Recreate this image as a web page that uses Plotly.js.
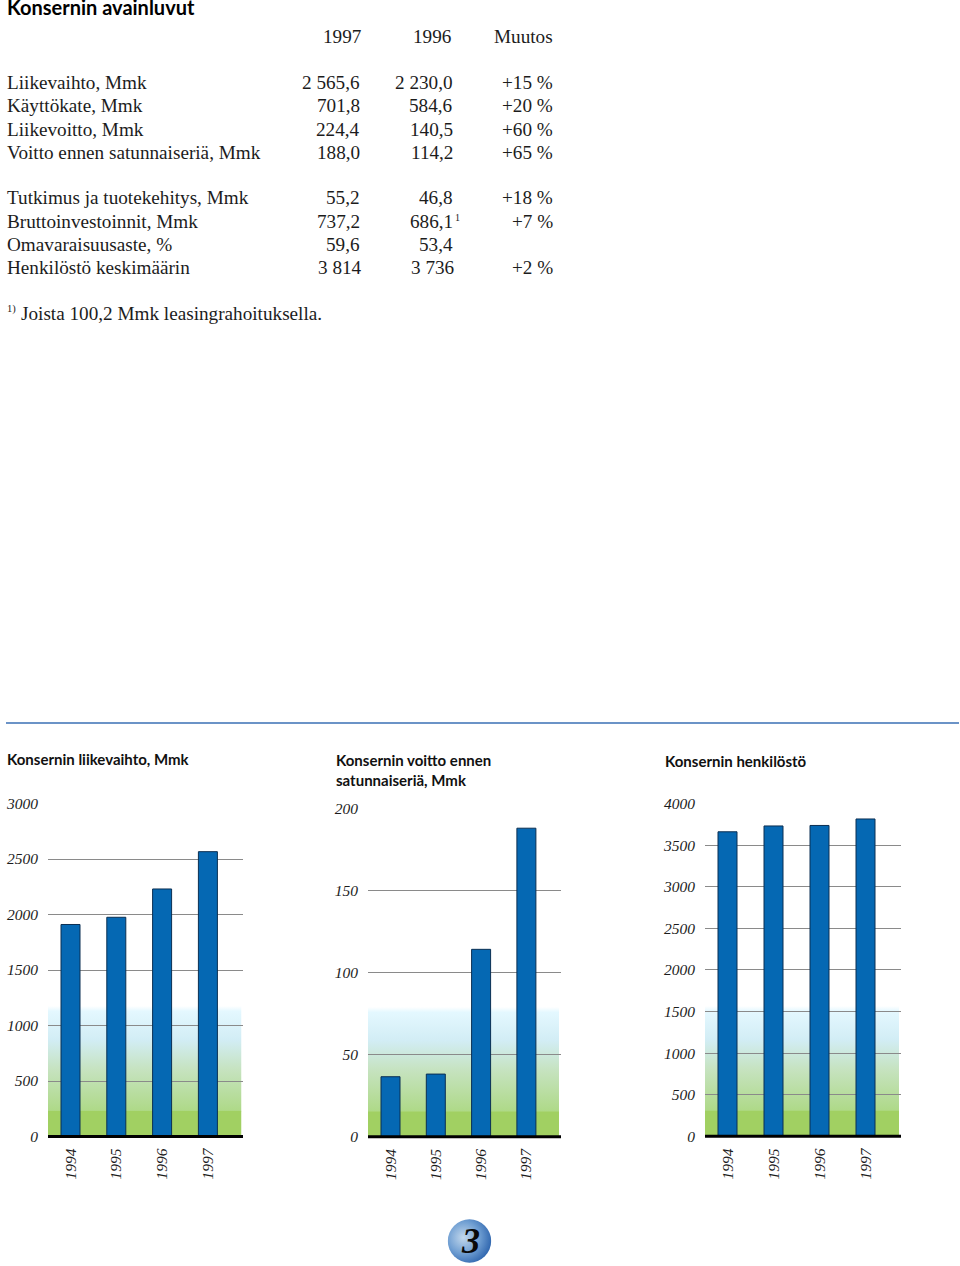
<!DOCTYPE html>
<html><head><meta charset="utf-8">
<script src="https://cdn.plot.ly/plotly-3.0.1.min.js"></script>
<style>html,body{margin:0;padding:0;background:#fff}#c{width:960px;height:1266px}</style>
</head><body><div id="c"></div>
<script>
const W = 960, H = 1266;
const SERIF = '"Liberation Serif", serif', SANS = 'Lato, "Open Sans", sans-serif';

// Table
const tableTitle = 'Konsernin avainluvut';
const tableHeaders = ['1997', '1996', 'Muutos'];
const rowLabels = ['Liikevaihto, Mmk', 'Käyttökate, Mmk', 'Liikevoitto, Mmk', 'Voitto ennen satunnaiseriä, Mmk',
  'Tutkimus ja tuotekehitys, Mmk', 'Bruttoinvestoinnit, Mmk', 'Omavaraisuusaste, %', 'Henkilöstö keskimäärin'];
const values1997 = ['2 565,6', '701,8', '224,4', '188,0', '55,2', '737,2', '59,6', '3 814'];
const values1996 = ['2 230,0', '584,6', '140,5', '114,2', '46,8', '686,1', '53,4', '3 736'];
const changes = ['+15 %', '+20 %', '+60 %', '+65 %', '+18 %', '+7 %', '', '+2 %'];
const rowY = [83, 106, 129, 152, 198, 221, 244, 267];
const footnote = 'Joista 100,2 Mmk leasingrahoituksella.';

// Charts
const years = ['1994', '1995', '1996', '1997'];
const revenue = [1910, 1975, 2230, 2566];
const profit = [36.6, 38.2, 114.2, 188];
const staff = [3660, 3730, 3736, 3814];
const chartTitles = ['Konsernin liikevaihto, Mmk', 'Konsernin voitto ennen<br>satunnaiseriä, Mmk', 'Konsernin henkilöstö'];
const revenueTicks = [0, 500, 1000, 1500, 2000, 2500, 3000];
const profitTicks = [0, 50, 100, 150, 200];
const staffTicks = [0, 500, 1000, 1500, 2000, 2500, 3000, 3500, 4000];

const px = x => x / W, py = y => 1 - y / H;
const panels = [
  {vals: revenue, ticks: revenueTicks, l: 48, r: 243, top: 803.5, bot: 1136.5, c0: 70.5, step: 45.8, gl: 48, gr: 241.5, gt: 1006, gm: 1111, titleX: 6, titleY: 759},
  {vals: profit, ticks: profitTicks, l: 368, r: 561, top: 808.5, bot: 1136.8, c0: 390.5, step: 45.3, gl: 368, gr: 559, gt: 1007, gm: 1113, titleX: 335, titleY: 770},
  {vals: staff, ticks: staffTicks, l: 705, r: 901, top: 803.5, bot: 1136.3, c0: 727.5, step: 46, gl: 705, gr: 899, gt: 1006, gm: 1111, titleX: 664, titleY: 761}
];

const gradSvg = 'data:image/svg+xml;utf8,' + encodeURIComponent(
  '<svg xmlns="http://www.w3.org/2000/svg" width="100" height="130" preserveAspectRatio="none" viewBox="0 0 100 130">' +
  '<defs><linearGradient id="g" x1="0" y1="0" x2="0" y2="1">' +
  '<stop offset="0" stop-color="#ffffff"/><stop offset="0.05" stop-color="#e4f8ff"/><stop offset="0.32" stop-color="#d2edf5"/>' +
  '<stop offset="0.6" stop-color="#c6e3c0"/><stop offset="1" stop-color="#aed987"/></linearGradient></defs>' +
  '<rect width="100" height="105" fill="url(#g)"/><rect y="104.5" width="100" height="25.5" fill="#a1d062"/></svg>');
const ballSvg = 'data:image/svg+xml;utf8,' + encodeURIComponent(
  '<svg xmlns="http://www.w3.org/2000/svg" width="44" height="44"><defs><radialGradient id="b" cx="0.36" cy="0.42" r="0.68">' +
  '<stop offset="0" stop-color="#c3d8ec"/><stop offset="0.55" stop-color="#6f9ed2"/><stop offset="1" stop-color="#2b62ac"/></radialGradient></defs>' +
  '<circle cx="22" cy="22" r="21.7" fill="url(#b)"/></svg>');

const data = [], layout = {
  width: W, height: H, margin: {l: 0, r: 0, t: 0, b: 0}, paper_bgcolor: '#fff', plot_bgcolor: 'rgba(0,0,0,0)',
  showlegend: false, bargap: 0, annotations: [], shapes: [], images: []
};
const txt = (text, x, y, o = {}) => layout.annotations.push(Object.assign({
  text, x: px(x), y: py(y), xref: 'paper', yref: 'paper', showarrow: false, xanchor: 'left', yanchor: 'middle',
  borderpad: 0, align: 'left', font: {family: SERIF, size: 19.2, color: '#1c1c1c'}
}, o));

panels.forEach((p, i) => {
  const s = i ? String(i + 1) : '';
  data.push({
    type: 'bar', x: years, y: p.vals, xaxis: 'x' + s, yaxis: 'y' + s, width: 19 / p.step,
    marker: {color: '#0568b3', line: {color: '#0b2f52', width: 1}}, hoverinfo: 'skip'
  });
  layout['xaxis' + s] = {
    domain: [px(p.l), px(p.r)], anchor: 'y' + s, type: 'category', categoryorder: 'array', categoryarray: years,
    range: [(p.l - p.c0) / p.step, (p.r - p.c0) / p.step], tickangle: -90, ticks: '', showgrid: false, showline: false,
    zeroline: false, ticklabelstandoff: 8, tickfont: {family: SERIF, size: 15.5, style: 'italic', color: '#1c1c1c'}, fixedrange: true
  };
  layout['yaxis' + s] = {
    domain: [py(p.bot), py(p.top)], anchor: 'x' + s, range: [0, p.ticks[p.ticks.length - 1]], tickmode: 'array',
    tickvals: p.ticks, ticktext: p.ticks.map(String), ticks: '', showline: false, ticklabelstandoff: 9,
    gridcolor: '#8a8a8a', gridwidth: 1, zeroline: false,
    tickfont: {family: SERIF, size: 15.5, style: 'italic', color: '#1c1c1c'}, fixedrange: true
  };
  layout.shapes.push({type: 'line', xref: 'paper', yref: 'paper', x0: px(p.l), x1: px(p.r), y0: py(p.bot), y1: py(p.bot), line: {color: '#000', width: 3}, layer: 'above'});
  layout.images.push({source: gradSvg, xref: 'paper', yref: 'paper', x: px(p.gl), y: py(p.gt), sizex: px(p.gr - p.gl), sizey: (p.bot - p.gt) / H,
    sizing: 'stretch', xanchor: 'left', yanchor: 'top', layer: 'below'});
  txt('<b>' + chartTitles[i] + '</b>', p.titleX, p.titleY, {font: {family: SANS, size: 15, color: '#111'}, align: 'left'});
});

// separator rule
layout.shapes.push({type: 'line', xref: 'paper', yref: 'paper', x0: px(6), x1: px(959), y0: py(723), y1: py(723), line: {color: '#3a6fb5', width: 1.3}});

// table text
txt('<b>' + tableTitle + '</b>', 6, 7, {font: {family: SANS, size: 20, weight: 900, color: '#000'}});
const hdrX = [362.5, 453, 553.5];
tableHeaders.forEach((t, i) => txt(t, hdrX[i], 37, {xanchor: 'right'}));
rowLabels.forEach((t, i) => {
  txt(t, 6, rowY[i]);
  const last = i === 7;
  txt(values1997[i], last ? 362.5 : 361, rowY[i], {xanchor: 'right'});
  txt(values1996[i], last ? 455.5 : 453.5, rowY[i], {xanchor: 'right'});
  if (changes[i]) txt(changes[i], 554, rowY[i], {xanchor: 'right'});
});
txt('1', 454, 217, {font: {family: SERIF, size: 10, color: '#1c1c1c'}});
txt('1)', 6, 309, {font: {family: SERIF, size: 10.5, color: '#1c1c1c'}});
txt(footnote, 20, 313);

// page number
layout.images.push({source: ballSvg, xref: 'paper', yref: 'paper', x: px(447.5), y: py(1219), sizex: 44 / W, sizey: 44 / H, sizing: 'stretch', xanchor: 'left', yanchor: 'top', layer: 'below'});
txt('<b>3</b>', 470.5, 1241, {xanchor: 'center', font: {family: SERIF, size: 36, style: 'italic', color: '#0a0a0a'}});

Plotly.newPlot('c', data, layout, {displayModeBar: false, staticPlot: true});
</script></body></html>
